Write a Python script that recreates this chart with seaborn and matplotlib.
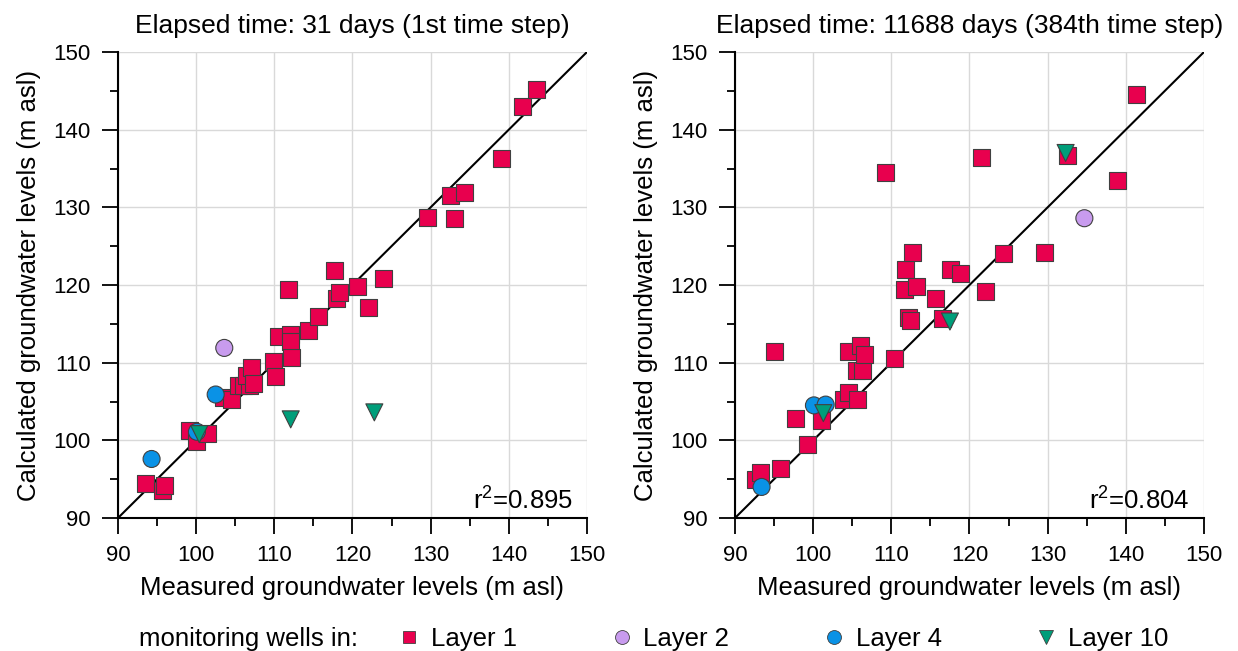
import numpy as np
import pandas as pd
import matplotlib
matplotlib.use("Agg")
import matplotlib.pyplot as plt
import seaborn as sns
from matplotlib.lines import Line2D
from matplotlib.ticker import MultipleLocator

# ---------------- data ----------------
# Left panel: 31 days (1st time step)
l1_meas_a = [93.5, 95.7, 96.0, 99.1, 100.1, 101.4, 103.5, 104.5, 105.4, 106.0, 106.8, 106.5,
             107.1, 107.3, 109.9, 110.1, 110.5, 112.1, 112.1, 112.2, 111.8, 114.4, 115.6, 118.0,
             118.3, 117.7, 120.7, 122.1, 124.0, 129.6, 132.6, 133.1, 134.3, 139.1, 141.7, 143.5]
l1_calc_a = [94.5, 93.5, 94.2, 101.3, 99.8, 100.9, 105.5, 105.3, 107.1, 107.0, 107.0, 108.4,
             109.4, 107.3, 110.1, 108.2, 113.4, 113.6, 112.7, 110.7, 119.4, 114.2, 116.0, 118.3,
             119.0, 121.9, 119.8, 117.1, 120.9, 128.7, 131.5, 128.5, 131.9, 136.3, 143.0, 145.2]
l2_meas_a = [103.6]
l2_calc_a = [111.9]
l4_meas_a = [94.3, 100.1, 102.5]
l4_calc_a = [97.6, 101.1, 105.9]
l10_meas_a = [100.4, 112.1, 122.8]
l10_calc_a = [100.8, 102.7, 103.6]

# Right panel: 11688 days (384th time step)
l1_meas_b = [92.6, 93.3, 95.8, 95.1, 97.7, 99.3, 101.1, 103.9, 104.5, 105.7, 105.5, 106.3,
             104.5, 106.0, 106.6, 110.4, 109.3, 111.7, 111.8, 112.7, 113.2, 112.2, 112.4, 115.7,
             116.6, 117.6, 118.9, 122.1, 121.5, 124.3, 129.6, 132.6, 138.9, 141.4]
l1_calc_b = [94.9, 95.8, 96.4, 111.4, 102.8, 99.5, 102.6, 105.2, 106.1, 105.2, 109.0, 109.0,
             111.4, 112.2, 111.0, 110.6, 134.5, 119.4, 122.0, 124.2, 119.8, 115.8, 115.4, 118.2,
             115.7, 122.0, 121.5, 119.2, 136.4, 124.0, 124.2, 136.7, 133.5, 144.5]
l2_meas_b = [134.7]
l2_calc_b = [128.6]
l4_meas_b = [93.4, 100.1, 101.6]
l4_calc_b = [94.0, 104.5, 104.6]
l10_meas_b = [101.3, 117.5, 132.3]
l10_calc_b = [103.5, 115.3, 137.0]

layers = ["Layer 1", "Layer 2", "Layer 4", "Layer 10"]
titles = ["Elapsed time: 31 days (1st time step)",
          "Elapsed time: 11688 days (384th time step)"]
r2_labels = ["r$^2$=0.895", "r$^2$=0.804"]
legend_title = "monitoring wells in:"
xlabel = "Measured groundwater levels (m asl)"
ylabel = "Calculated groundwater levels (m asl)"

colors = {"Layer 1": "#E8004E", "Layer 2": "#C89BEE", "Layer 4": "#0A92E6", "Layer 10": "#009E7A"}
markers = {"Layer 1": "s", "Layer 2": "o", "Layer 4": "o", "Layer 10": "v"}


def make_df(sets):
    rows = []
    for layer, (mx, cy) in zip(layers, sets):
        for a, b in zip(mx, cy):
            rows.append({"measured": a, "calculated": b, "layer": layer})
    return pd.DataFrame(rows)


df_a = make_df([(l1_meas_a, l1_calc_a), (l2_meas_a, l2_calc_a),
                (l4_meas_a, l4_calc_a), (l10_meas_a, l10_calc_a)])
df_b = make_df([(l1_meas_b, l1_calc_b), (l2_meas_b, l2_calc_b),
                (l4_meas_b, l4_calc_b), (l10_meas_b, l10_calc_b)])

# ---------------- style ----------------
sns.set_theme(style="white")
plt.rcParams["font.family"] = ["Liberation Sans", "DejaVu Sans"]
plt.rcParams["mathtext.fontset"] = "custom"
plt.rcParams["mathtext.rm"] = "Liberation Sans"
plt.rcParams["text.color"] = "black"
plt.rcParams["axes.labelcolor"] = "black"
plt.rcParams["xtick.color"] = "black"
plt.rcParams["ytick.color"] = "black"

fig = plt.figure(figsize=(12.38, 6.51), dpi=100)
ax1 = fig.add_axes([0.0953, 0.2043, 0.3788, 0.7158])
ax2 = fig.add_axes([0.5937, 0.2043, 0.3788, 0.7158])

for ax, df, title, r2 in zip([ax1, ax2], [df_a, df_b], titles, r2_labels):
    ax.set_xlim(90, 150)
    ax.set_ylim(90, 150)
    ax.xaxis.set_major_locator(MultipleLocator(10))
    ax.yaxis.set_major_locator(MultipleLocator(10))
    ax.xaxis.set_minor_locator(MultipleLocator(5))
    ax.yaxis.set_minor_locator(MultipleLocator(5))
    ax.grid(True, which="major", color="#d9d9d9", linewidth=1.0)
    ax.set_axisbelow(True)
    ax.plot([90, 150], [90, 150], color="black", linewidth=1.5, zorder=2)
    sns.scatterplot(data=df, x="measured", y="calculated", hue="layer", style="layer",
                    hue_order=layers, style_order=layers, palette=colors, markers=markers,
                    s=150, edgecolor="#404040", linewidth=0.8, ax=ax, legend=False, zorder=3,
                    clip_on=False)
    for side in ["top", "right"]:
        ax.spines[side].set_visible(False)
    for side in ["left", "bottom"]:
        ax.spines[side].set_color("black")
        ax.spines[side].set_linewidth(1.5)
    ax.tick_params(which="major", direction="out", length=11.5, width=1.3,
                   labelsize=16, pad=8, bottom=True, left=True)
    ax.tick_params(which="minor", direction="out", length=6, width=1.3,
                   bottom=True, left=True)
    ax.set_xlabel(xlabel, fontsize=18.5, labelpad=7)
    ax.set_ylabel(ylabel, fontsize=18.5, labelpad=9)
    ax.set_title(title, fontsize=19, pad=14)
    ax.text(0.97, 0.01, r2, transform=ax.transAxes, ha="right", va="bottom", fontsize=18.5)

fig.text(0.112, 0.0, legend_title, fontsize=18.5, ha="left", va="bottom")
handles = [Line2D([], [], linestyle="none", marker=markers[l], markersize=10 if markers[l] != "s" else 8.5,
                  markerfacecolor=colors[l], markeredgecolor="#404040", markeredgewidth=0.6)
           for l in layers]
fig.legend(handles, layers, loc="lower left", bbox_to_anchor=(0.3015, -0.035), ncol=4,
           frameon=False, fontsize=18.5, handletextpad=0.35, columnspacing=3.57, handlelength=1.0)

fig.savefig("out.png", dpi=100)
